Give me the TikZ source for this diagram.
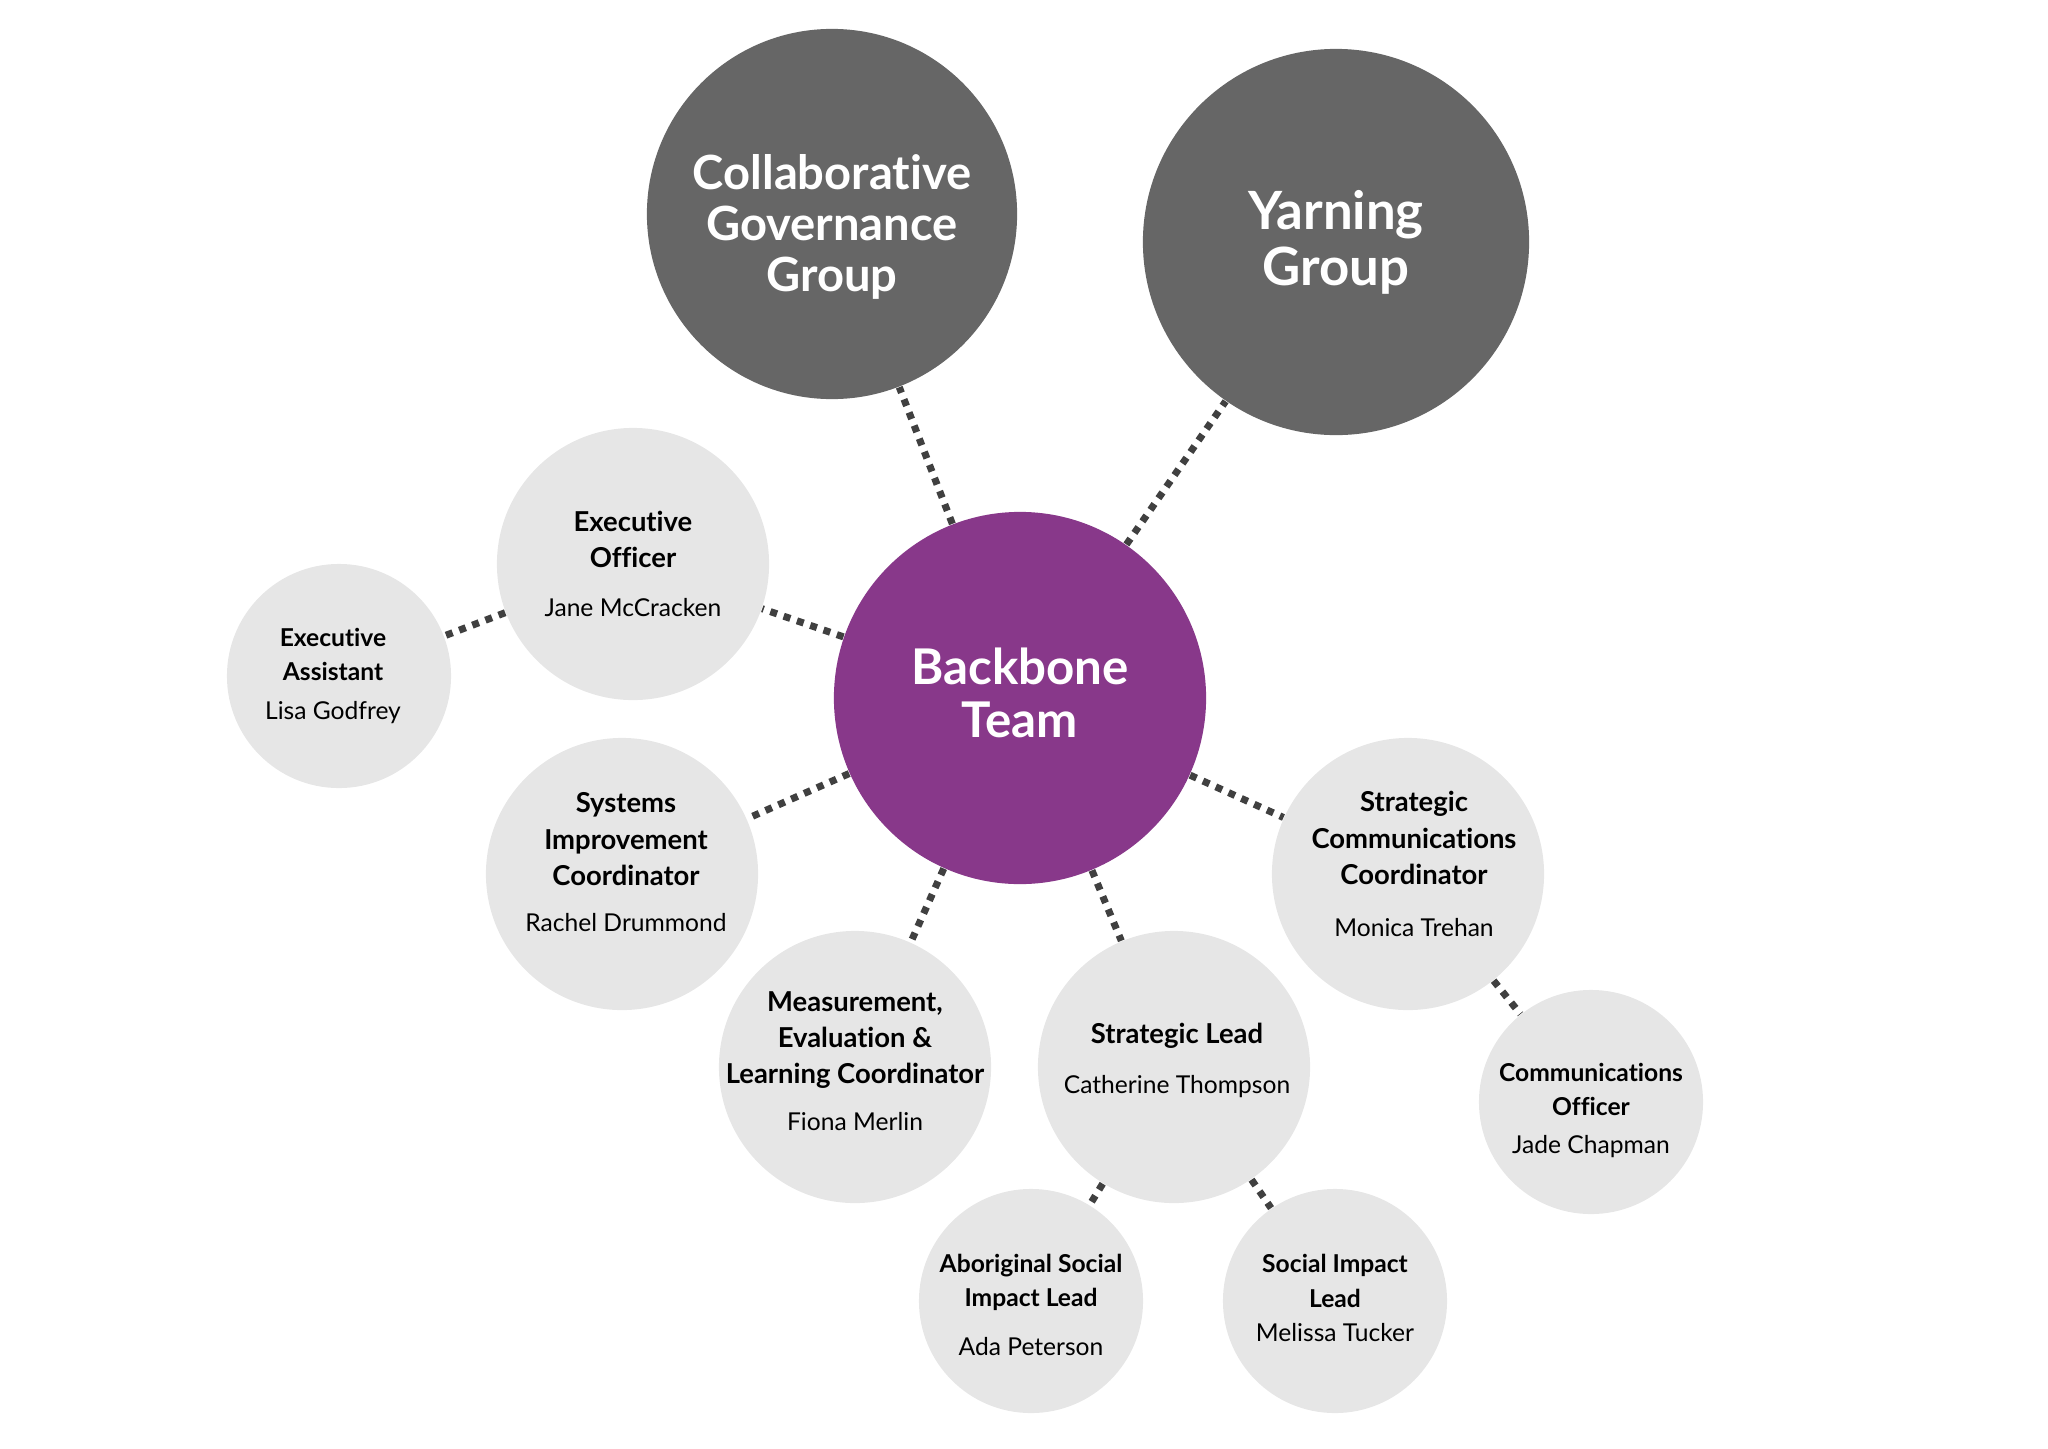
\documentclass[tikz,border=0pt]{standalone}
\usepackage{fontspec}
\setmainfont{Lato}[Ligatures=NoCommon]
\usepackage{tikz}

\definecolor{groupgray}{HTML}{666666}
\definecolor{backbonepurple}{HTML}{88388A}
\definecolor{rolegray}{HTML}{E6E6E6}
\definecolor{dotgray}{HTML}{404040}

\newcommand{\who}[1]{{\mdseries\fontsize{7}{9}\selectfont #1}}

\begin{document}
\begin{tikzpicture}
    [
    x=0.01cm, y=-0.01cm,
    bubble/.style={circle,inner sep=0pt},
    group/.style={bubble,fill=groupgray},
    core/.style={bubble,fill=backbonepurple,minimum size=3.72cm},
    role/.style={bubble,fill=rolegray,minimum size=2.72cm},
    minor/.style={bubble,fill=rolegray,minimum size=2.24cm},
    blurb/.style={inner sep=0pt,align=center},
    grouptext/.style={blurb,text=white,font=\bfseries\fontsize{13.4}{14.6}\selectfont},
    coretext/.style={blurb,text=white,font=\bfseries\fontsize{14}{15.2}\selectfont},
    roletext/.style={blurb,text=black,font=\bfseries\fontsize{7.8}{10.3}\selectfont},
    minortext/.style={blurb,text=black,font=\bfseries\fontsize{7}{9.7}\selectfont},
    link/.style={draw=dotgray,line width=2pt,dash pattern=on 2pt off 2pt},
    ]
    \useasboundingbox (0,0) rectangle (2048,1448);

    % circles
    \node (cgg) at (832,214) [group, minimum size=3.7cm] {};
    \node (yarn) at (1336,242) [group, minimum size=3.86cm] {};
    \node (bb) at (1020,698) [core] {};
    \node (eo) at (633,564) [role] {};
    \node (ea) at (339,676) [minor] {};
    \node (sic) at (622,874) [role] {};
    \node (mel) at (855,1067) [role] {};
    \node (sl) at (1174,1067) [role] {};
    \node (scc) at (1408,874) [role] {};
    \node (co) at (1591,1102) [minor] {};
    \node (asil) at (1031,1301) [minor] {};
    \node (sil) at (1335,1301) [minor] {};

    % texts
    \node (cgg-t) at ([yshift=-0.13cm]cgg) [grouptext] {Collaborative\\Governance\\Group};
    \node (yarn-t) at (yarn) [grouptext, font=\bfseries\fontsize{15}{16}\selectfont] {Yarning\\Group};
    \node (bb-t) at ([yshift=0.05cm]bb) [coretext] {Backbone\\Team};
    \node (eo-t) at (eo) [roletext] {Executive\\Officer\\[3.8pt]\who{Jane McCracken}};
    \node (ea-t) at ([xshift=-0.06cm]ea) [minortext] {Executive\\Assistant\\[1.4pt]\who{Lisa Godfrey}};
    \node (sic-t) at ([xshift=0.04cm,yshift=0.12cm]sic) [roletext] {Systems\\Improvement\\Coordinator\\[2.7pt]\who{Rachel Drummond}};
    \node (mel-t) at ([yshift=0.06cm]mel) [roletext] {Measurement,\\Evaluation \&\\Learning Coordinator\\[3pt]\who{Fiona Merlin}};
    \node (sl-t) at ([xshift=0.03cm,yshift=0.065cm]sl) [roletext] {Strategic Lead\\[3.8pt]\who{Catherine Thompson}};
    \node (scc-t) at ([xshift=0.06cm,yshift=0.1cm]scc) [roletext] {Strategic\\Communications\\Coordinator\\[4.5pt]\who{Monica Trehan}};
    \node (co-t) at ([yshift=-0.085cm]co) [minortext] {Communications\\Officer\\[1.2pt]\who{Jade Chapman}};
    \node (asil-t) at ([yshift=-0.04cm]asil) [minortext] {Aboriginal Social\\Impact Lead\\[4.4pt]\who{Ada Peterson}};
    \node (sil-t) at ([yshift=0.03cm]sil) [minortext] {Social Impact\\Lead\\\who{Melissa Tucker}};

    % links
    \draw [link] (bb) to (cgg);
    \draw [link] (bb) to (yarn);
    \draw [link] (bb) to (eo);
    \draw [link] (eo) to (ea);
    \draw [link] (bb) to (sic);
    \draw [link] (bb) to (mel);
    \draw [link] (bb) to (sl);
    \draw [link] (bb) to (scc);
    \draw [link] (scc) to (co);
    \draw [link] (sl) to (asil);
    \draw [link] (sl) to (sil);
\end{tikzpicture}
\end{document}
